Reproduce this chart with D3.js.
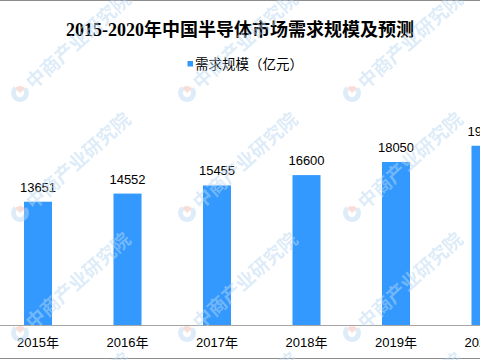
<!DOCTYPE html>
<html>
<head>
<meta charset="utf-8">
<script src="https://cdn.jsdelivr.net/npm/d3@7"></script>
<style>
  html, body { margin: 0; padding: 0; background: #fff; }
  svg { display: block; }
</style>
</head>
<body>
<svg id="chart" width="480" height="360"></svg>
<script>
// ---- data ----
const categories = ["2015年", "2016年", "2017年", "2018年", "2019年", "2020年"];
const values = [13651, 14552, 15455, 16600, 18050, 19850];
const seriesName = "需求规模（亿元）";
const title = "2015-2020年中国半导体市场需求规模及预测";
const yMax = 25000;
const watermarkText = "中商产业研究院";

const W = 480, H = 360;
const svg = d3.select("#chart");
const numFont = '"Liberation Sans", "Noto Sans CJK SC", sans-serif';
const titleFont = '"Liberation Serif", "Noto Sans CJK SC", serif';

svg.append("rect").attr("width", W).attr("height", H).attr("fill", "#fff");

// scales
const x = d3.scaleBand().domain(categories).range([-6.75, 530.25])
  .paddingInner(0.687).paddingOuter(0.3435);
const y = d3.scaleLinear().domain([0, yMax]).range([325, 99.25]);

// title
svg.append("text")
  .attr("x", 240).attr("y", 36)
  .attr("text-anchor", "middle")
  .attr("font-family", titleFont)
  .attr("font-weight", "bold")
  .attr("font-size", 18)
  .attr("fill", "#000")
  .text(title);

// legend
svg.append("rect").attr("x", 187.5).attr("y", 61).attr("width", 5.5).attr("height", 5.5).attr("fill", "#3399ff");
svg.append("text")
  .attr("x", 195).attr("y", 69)
  .attr("font-family", numFont)
  .attr("font-size", 13.5)
  .attr("fill", "#000")
  .text(seriesName);

// bars
const data = categories.map((c, i) => ({ c, v: values[i] }));
svg.append("g").selectAll("rect").data(data).join("rect")
  .attr("x", d => x(d.c))
  .attr("y", d => y(d.v))
  .attr("width", x.bandwidth())
  .attr("height", d => y(0) - y(d.v))
  .attr("fill", "#3399ff");

// value labels
svg.append("g").selectAll("text").data(data).join("text")
  .attr("x", d => x(d.c) + x.bandwidth() / 2)
  .attr("y", d => y(d.v) - 10)
  .attr("text-anchor", "middle")
  .attr("font-family", numFont)
  .attr("font-size", 13)
  .attr("fill", "#000")
  .text(d => d.v);

// x axis
const xAxis = d3.axisBottom(x).tickSize(0).tickPadding(0);
const gx = svg.append("g").attr("transform", `translate(0,${y(0)})`).call(xAxis);
gx.select(".domain").remove();
gx.selectAll("text")
  .attr("y", 21.5).attr("dy", null)
  .attr("font-family", numFont)
  .attr("font-size", 13)
  .attr("fill", "#000");
svg.append("line").attr("x1", 0).attr("x2", W).attr("y1", y(0) + 0.5).attr("y2", y(0) + 0.5)
  .attr("stroke", "#a6a6a6").attr("stroke-width", 1);

// frame lines
svg.append("line").attr("x1", 0).attr("x2", W).attr("y1", 0.5).attr("y2", 0.5).attr("stroke", "#8c8c8c");
svg.append("line").attr("x1", 0).attr("x2", W).attr("y1", 358.5).attr("y2", 358.5).attr("stroke", "#8c8c8c");

// watermark
const wmCols = [20, 187, 352, 518];
const wmRows = [-27, 93, 213, 333, 453];
const wm = svg.append("g").attr("opacity", 0.48).attr("pointer-events", "none");
wmRows.forEach(ry => wmCols.forEach(cx => {
  const g = wm.append("g").attr("transform", `translate(${cx},${ry}) rotate(-42)`);
  const arcBlue = d3.arc().innerRadius(4).outerRadius(9).startAngle(Math.PI * 0.5).endAngle(Math.PI * 2);
  const arcPink = d3.arc().innerRadius(0).outerRadius(7).startAngle(0).endAngle(Math.PI * 0.5);
  g.append("path").attr("d", arcBlue()).attr("fill", "#b9d7f0");
  g.append("path").attr("d", arcPink()).attr("fill", "#f3b9ab");
  g.append("text")
    .attr("x", 12).attr("y", 7)
    .attr("font-family", '"Noto Sans CJK SC", sans-serif')
    .attr("font-weight", "bold")
    .attr("font-size", 19)
    .attr("fill", "#b9d7f0")
    .text(watermarkText);
}));
</script>
</body>
</html>
